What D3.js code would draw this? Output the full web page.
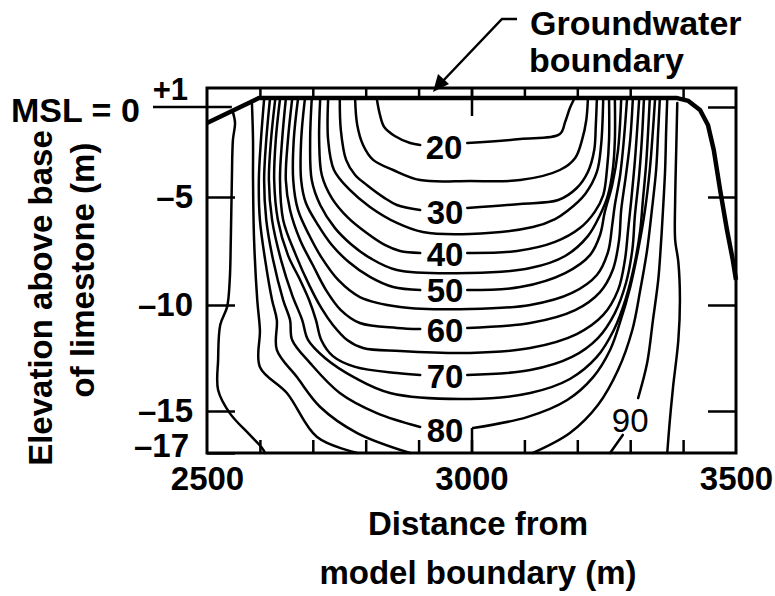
<!DOCTYPE html>
<html><head><meta charset="utf-8">
<script src="https://cdn.jsdelivr.net/npm/d3@7"></script>
<style>
html,body{margin:0;padding:0;background:#fff;}
svg{display:block;}
text{font-family:"Liberation Sans",Arial,Helvetica,sans-serif;fill:#000;}
</style>
</head><body>
<svg id="chart" width="775" height="596"></svg>
<script>
// ---- axes / ticks ----
const xDomain = [2500, 3500];
const xTickLabels = [2500, 3000, 3500];
const xMinorTicks = [2600, 2700, 2800, 2900, 3000, 3100, 3200, 3300, 3400];
const yBreaks = [1, 0, -5, -10, -15, -17];
const yTickLabels = [-5, -10, -15, -17];
const yRightTicks = [0, -5, -10, -15];

// ---- contour lines [distance m, elevation m] ----
const c20a = [[2821,0.42],[2827,-0.44],[2835,-1.11],[2855,-1.61],[2884,-2.0],[2903,-2.11]];
const c20b = [[2992,-2.0],[3092,-1.78],[3167,-1.5],[3177,-0.83],[3186,-0.06],[3194,0.42]];
const c25 = [[2780,0.42],[2784,-1.0],[2795,-2.11],[2814,-2.94],[2852,-3.5],[2903,-4.06],[2997,-4.11],[3092,-4.06],[3167,-3.5],[3196,-2.83],[3209,-1.83],[3217,-0.72],[3220,0.42]];
const c30a = [[2751,0.42],[2753,-1.28],[2763,-2.94],[2780,-3.78],[2802,-4.33],[2836,-5.05],[2859,-5.37],[2903,-5.6]];
const c30b = [[2992,-5.51],[3092,-5.32],[3164,-5.14],[3199,-4.5],[3220,-3.61],[3232,-2.39],[3235,-1.0],[3237,0.42]];
const c35 = [[2729,0.42],[2729,-1.83],[2740,-3.5],[2770,-4.61],[2808,-5.46],[2859,-6.2],[2908,-6.62],[2997,-6.71],[3116,-6.39],[3158,-6.02],[3181,-5.65],[3215,-4.83],[3237,-3.61],[3245,-2.11],[3249,0.42]];
const c40a = [[2714,0.42],[2712,-1.83],[2717,-3.78],[2736,-5.05],[2767,-5.97],[2802,-6.67],[2836,-7.22],[2865,-7.5],[2903,-7.59]];
const c40b = [[2992,-7.59],[3086,-7.5],[3158,-7.08],[3205,-6.44],[3233,-5.69],[3249,-4.89],[3256,-3.5],[3260,-1.83],[3260,0.42]];
const c45 = [[2698,0.42],[2695,-1.83],[2698,-4.06],[2714,-5.37],[2742,-6.44],[2774,-7.22],[2808,-7.82],[2859,-8.38],[2997,-8.52],[3111,-8.29],[3177,-7.73],[3220,-6.81],[3243,-5.83],[3258,-4.89],[3267,-3.5],[3271,-1.83],[3271,0.42]];
const c50a = [[2685,0.42],[2678,-1.83],[2678,-4.06],[2687,-5.28],[2710,-6.3],[2736,-7.22],[2768,-8.01],[2808,-8.7],[2852,-9.17],[2903,-9.31]];
const c50b = [[2992,-9.31],[3092,-9.17],[3177,-8.52],[3224,-7.69],[3243,-6.76],[3252,-5.69],[3266,-4.33],[3277,-2.39],[3283,0.42]];
const c55 = [[2672,0.42],[2664,-1.83],[2663,-4.06],[2672,-5.6],[2693,-6.76],[2717,-7.82],[2748,-8.84],[2789,-9.63],[2865,-10.09],[2997,-10.19],[3111,-10.0],[3190,-9.44],[3237,-8.61],[3258,-7.55],[3266,-6.3],[3271,-5.37],[3281,-3.78],[3288,-1.83],[3294,0.42]];
const c60a = [[2661,0.42],[2653,-1.83],[2649,-4.06],[2657,-5.6],[2676,-6.99],[2700,-8.15],[2725,-9.31],[2753,-10.24],[2789,-10.85],[2859,-11.08],[2903,-11.13]];
const c60b = [[2992,-11.08],[3111,-10.85],[3196,-10.24],[3243,-9.4],[3267,-8.38],[3279,-6.99],[3283,-5.6],[3292,-3.78],[3300,-1.83],[3305,0.42]];
const c65 = [[2649,0.42],[2642,-1.83],[2638,-4.06],[2644,-6.06],[2668,-7.69],[2693,-9.07],[2716,-10.14],[2738,-10.94],[2765,-11.65],[2795,-12.03],[2865,-12.17],[2997,-12.26],[3111,-12.03],[3199,-11.37],[3249,-10.47],[3277,-9.31],[3290,-7.92],[3296,-6.53],[3302,-5.14],[3309,-2.94],[3317,0.42]];
const c70a = [[2638,0.42],[2630,-1.83],[2627,-4.06],[2634,-6.06],[2653,-7.69],[2676,-8.84],[2693,-9.77],[2706,-10.71],[2716,-11.65],[2738,-12.41],[2780,-12.92],[2859,-13.21],[2903,-13.3]];
const c70b = [[2992,-13.3],[3111,-13.07],[3190,-12.45],[3239,-11.56],[3271,-10.38],[3292,-8.98],[3304,-7.45],[3309,-5.83],[3317,-3.78],[3322,-1.83],[3326,0.42]];
const c75 = [[2629,0.42],[2621,-1.83],[2617,-4.06],[2623,-6.06],[2640,-7.92],[2661,-9.54],[2680,-10.71],[2691,-11.65],[2723,-12.5],[2780,-13.44],[2846,-14.15],[2997,-14.43],[3111,-14.15],[3186,-13.49],[3237,-12.45],[3269,-11.18],[3292,-9.68],[3309,-8.01],[3319,-6.53],[3324,-5.14],[3330,-3.22],[3334,-1.28],[3337,0.42]];
const c80a = [[2619,0.42],[2612,-1.83],[2608,-4.06],[2612,-6.06],[2625,-7.92],[2644,-9.77],[2657,-10.71],[2661,-11.65],[2695,-12.74],[2751,-14.15],[2821,-15.1],[2903,-15.76]];
const c80b = [[3003,-15.81],[3105,-15.29],[3181,-14.48],[3230,-13.4],[3262,-12.12],[3281,-10.8],[3300,-9.17],[3315,-7.45],[3328,-5.6],[3337,-3.5],[3343,-1.28],[3347,0.42]];
const c85a = [[2608,0.42],[2602,-1.83],[2598,-4.06],[2600,-6.06],[2610,-7.92],[2623,-9.77],[2632,-10.71],[2632,-12.12],[2670,-13.4],[2714,-14.81],[2784,-16.05],[2884,-17]];
const c85b = [[3116,-17],[3186,-16.05],[3239,-14.72],[3277,-13.07],[3304,-11.18],[3319,-9.31],[3332,-7.45],[3341,-5.6],[3349,-3.5],[3353,-1.28],[3356,0.42]];
const c90a = [[2585,0.16],[2587,-1.83],[2587,-4.06],[2589,-6.99],[2595,-9.77],[2600,-11.18],[2600,-12.92],[2651,-14.15],[2708,-16.24],[2784,-17]];
const c90b = [[3262,-17],[3286,-16.14]];
const c90c = [[3315,-14.39],[3332,-12.74],[3343,-10.71],[3353,-8.84],[3358,-7.22],[3362,-5.6],[3366,-3.5],[3368,-1.28],[3370,0.42]];
const c95a = [[2549,-0.28],[2553,-0.89],[2549,-1.83],[2547,-4.06],[2545,-6.99],[2543,-8.84],[2538,-10.09],[2525,-10.94],[2521,-12.59],[2521,-14.01],[2543,-15.1],[2581,-16.14],[2604,-16.76],[2610,-17]];
const c95b = [[3370,-17],[3375,-15.43],[3381,-13.87],[3391,-11.65],[3394,-9.77],[3391,-8.01],[3385,-6.99],[3385,-5.14],[3387,-2.39],[3389,0.21]];

// groundwater boundary (thick line)
const gwBoundary = [[2500,-0.89],[2598,0.47],[3389,0.47],[3410,0.32],[3432,-0.17],[3447,-1.0],[3458,-2.39],[3470,-4.61],[3483,-6.53],[3494,-7.92],[3500,-8.84]];

// contour labels
const labelText = ["20","30","40","50","60","70","80","90"];
const labelX = [2948, 2950, 2950, 2950, 2950, 2950, 2950, 3300];
const labelY = [-2.22, -5.69, -7.64, -9.31, -11.18, -13.35, -15.9, -15.43];

const contourParts = [c20a,c20b,c25,c30a,c30b,c35,c40a,c40b,c45,c50a,c50b,c55,c60a,c60b,c65,c70a,c70b,c75,c80a,c80b,c85a,c85b,c90a,c90b,c90c,c95a,c95b];

// ---- drawing ----
const svg = d3.select("#chart");
svg.append("rect").attr("width",775).attr("height",596).attr("fill","#fff");

const x = d3.scaleLinear().domain(xDomain).range([207, 736]);
const y = d3.scaleLinear().domain(yBreaks).range([88, 107, 197, 305, 411, 453]);

const FONT = 33;
const line = d3.line().x(d => x(d[0])).y(d => y(d[1])).curve(d3.curveCatmullRom.alpha(0.5));

const gC = svg.append("g");
gC.selectAll("path.c").data(contourParts).join("path")
  .attr("class","c").attr("d", line)
  .attr("fill","none").attr("stroke","#000").attr("stroke-width",2.5)
  .attr("stroke-linejoin","round").attr("stroke-linecap","round");

// thick boundary
svg.append("path").datum(gwBoundary)
  .attr("d", d3.line().x(d => x(d[0])).y(d => y(d[1])).curve(d3.curveLinear))
  .attr("fill","none").attr("stroke","#000").attr("stroke-width",4.5)
  .attr("stroke-linejoin","round");

// contour labels
svg.selectAll("text.cl").data(labelText).join("text")
  .attr("class","cl")
  .attr("x", (d,i) => x(labelX[i]))
  .attr("y", (d,i) => y(labelY[i]))
  .attr("dy","0.36em")
  .attr("text-anchor","middle")
  .attr("font-size", FONT)
  .attr("font-weight", d => d === "90" ? "normal" : "bold")
  .text(d => d);

// frame
const [x0, x1] = x.range();
const y0 = y(1), y1 = y(-17);
svg.append("rect").attr("x", x0).attr("y", y0).attr("width", x1 - x0).attr("height", y1 - y0)
  .attr("fill","none").attr("stroke","#000").attr("stroke-width",3);

function styleAxis(g){
  g.select(".domain").remove();
  g.selectAll(".tick line").attr("stroke","#000").attr("stroke-width",2.5);
  g.selectAll("text").attr("font-size",FONT).attr("font-weight","bold")
    .attr("font-family",'"Liberation Sans",Arial,Helvetica,sans-serif').attr("fill","#000");
}

// top minor ticks (inward)
svg.append("g").attr("transform",`translate(0,${y0})`)
  .call(d3.axisTop(x).tickValues(xMinorTicks).tickSize(-10).tickFormat(""))
  .call(styleAxis);
// bottom minor ticks (inward)
svg.append("g").attr("transform",`translate(0,${y1})`)
  .call(d3.axisBottom(x).tickValues(xMinorTicks).tickSize(-13).tickFormat(""))
  .call(styleAxis);
// long ticks at 3000
svg.append("g").attr("transform",`translate(0,${y0})`)
  .call(d3.axisTop(x).tickValues([3000]).tickSize(-28).tickFormat(""))
  .call(styleAxis);
svg.append("g").attr("transform",`translate(0,${y1})`)
  .call(d3.axisBottom(x).tickValues([3000]).tickSize(-25).tickFormat(""))
  .call(styleAxis);
// bottom labels
svg.append("g").attr("transform",`translate(0,${y1})`)
  .call(d3.axisBottom(x).tickValues(xTickLabels).tickSize(0).tickPadding(14).tickFormat(d3.format("d")))
  .call(styleAxis);

// left axis ticks and labels
const gL = svg.append("g").attr("transform",`translate(${x0},0)`)
  .call(d3.axisLeft(y).tickValues(yTickLabels).tickSize(-28).tickPadding(14)
    .tickFormat(d => "\u2013" + Math.abs(d)))
  .call(styleAxis);
// nudge the -17 label up/left so it clears the 2500 label
gL.selectAll(".tick").filter(d => d === -17).select("text")
  .attr("dx", -4).attr("dy", "0.12em");
// right axis ticks
svg.append("g").attr("transform",`translate(${x1},0)`)
  .call(d3.axisRight(y).tickValues(yRightTicks).tickSize(-28).tickFormat(""))
  .call(styleAxis);

// +1 label and MSL line
svg.append("text").attr("x", 188).attr("y", y(1) + 12)
  .attr("text-anchor","end").attr("font-size",31).attr("font-weight","bold").text("+1");
svg.append("line").attr("x1",153).attr("x2",x(2547)).attr("y1",y(0)).attr("y2",y(0))
  .attr("stroke","#000").attr("stroke-width",2.5);
svg.append("text").attr("x", 11).attr("y", y(0) + 15)
  .attr("font-size",FONT+1).attr("font-weight","bold").text("MSL = 0");

// Groundwater boundary annotation
svg.append("text").attr("x",530).attr("y",35).attr("font-size",34).attr("font-weight","bold").text("Groundwater");
svg.append("text").attr("x",529).attr("y",72).attr("font-size",34).attr("font-weight","bold").text("boundary");
svg.append("path").attr("d","M517,19 L502,19 L441,83")
  .attr("fill","none").attr("stroke","#000").attr("stroke-width",2.5);
svg.append("path").attr("d","M433,92 L438,74 L449,84 Z").attr("fill","#000");

// axis titles
svg.append("text").attr("x",478).attr("y",535).attr("text-anchor","middle")
  .attr("font-size",FONT).attr("font-weight","bold").text("Distance from");
svg.append("text").attr("x",478).attr("y",584).attr("text-anchor","middle")
  .attr("font-size",FONT).attr("font-weight","bold").text("model boundary (m)");
svg.append("text").attr("transform","translate(52,298) rotate(-90)").attr("text-anchor","middle")
  .attr("font-size",FONT).attr("font-weight","bold").text("Elevation above base");
svg.append("text").attr("transform","translate(94,270) rotate(-90)").attr("text-anchor","middle")
  .attr("font-size",FONT).attr("font-weight","bold").text("of limestone (m)");
</script>
</body></html>
